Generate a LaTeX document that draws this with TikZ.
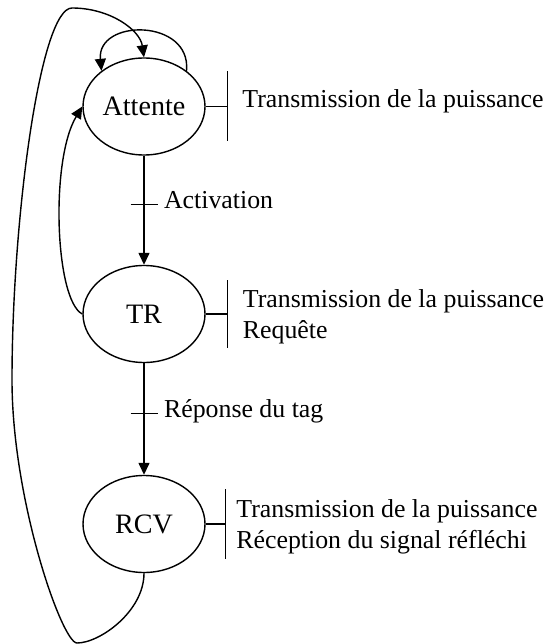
\documentclass[tikz,border=0pt]{standalone}
\usepackage{fontspec}
\setmainfont{Liberation Serif}
\usetikzlibrary{shapes.geometric,arrows.meta}
\tikzset{
	state/.style={draw, ellipse, inner sep=0pt, minimum width=2.44cm, minimum height=1.94cm, font=\fontsize{16}{19}\selectfont},
	arr/.style={-{Triangle[length=2.4mm, width=2.2mm]}},
	lab/.style={right, text height=0.68em, text depth=0.22em, font=\fontsize{14.7}{17.6}\selectfont},
	info/.style={anchor=west, align=left, inner sep=0pt, font=\fontsize{14.7}{17.6}\selectfont}
}
\begin{document}
\begin{tikzpicture}[line width=0.8pt]
		\useasboundingbox (0, 0) rectangle (10.92, -12.88);
		\node[state] (att) at (2.88, -2.13) {Attente};
		\node[state] (tr) at (2.88, -6.28) {TR};
		\node[state] (rcv) at (2.88, -10.48) {RCV};
		\draw[arr] (att) -- coordinate[pos=0.45] (act) (tr);
		\draw ([xshift=-0.27cm]act) -- ([xshift=0.27cm]act) node[lab] {Activation};
		\draw[arr] (tr) -- coordinate[pos=0.45] (rep) (rcv);
		\draw ([xshift=-0.27cm]rep) -- ([xshift=0.27cm]rep) node[lab] {Réponse du tag};
		\draw[arr] (att.40) .. controls +(0.1, 1.05) and +(-0.1, 1.05) .. (att.140);
		\draw[arr] (tr.west) .. controls (1.1, -6.0) and (1.0, -3.2) .. (att.west);
		\draw[arr] (rcv.south) .. controls +(0, -0.76) and (2.0, -12.86) .. (1.54, -12.86)
			.. controls (1.24, -12.86) and (0.24, -10.0) .. (0.24, -7.6)
			.. controls (0.24, -4.4) and (0.8, -0.16) .. (1.44, -0.16)
			.. controls (2.2, -0.16) and (2.8, -0.6) .. (att.north);
		\draw (att.east) -- ++(0.44, 0) coordinate (att-b);
		\draw ([yshift=0.7cm]att-b) -- ([yshift=-0.7cm]att-b);
		\node[info, yshift=0.1cm] (att-i) at ([xshift=0.28cm]att-b) {Transmission de la puissance};
		\draw (tr.east) -- ++(0.44, 0) coordinate (tr-b);
		\draw ([yshift=0.68cm]tr-b) -- ([yshift=-0.68cm]tr-b);
		\node[info, yshift=-0.05cm] (tr-i) at ([xshift=0.29cm]tr-b) {Transmission de la puissance\\Requête};
		\draw (rcv.east) -- ++(0.4, 0) coordinate (rcv-b);
		\draw ([yshift=0.7cm]rcv-b) -- ([yshift=-0.7cm]rcv-b);
		\node[info, yshift=-0.05cm] (rcv-i) at ([xshift=0.2cm]rcv-b) {Transmission de la puissance\\Réception du signal réfléchi};
	\end{tikzpicture}
\end{document}
